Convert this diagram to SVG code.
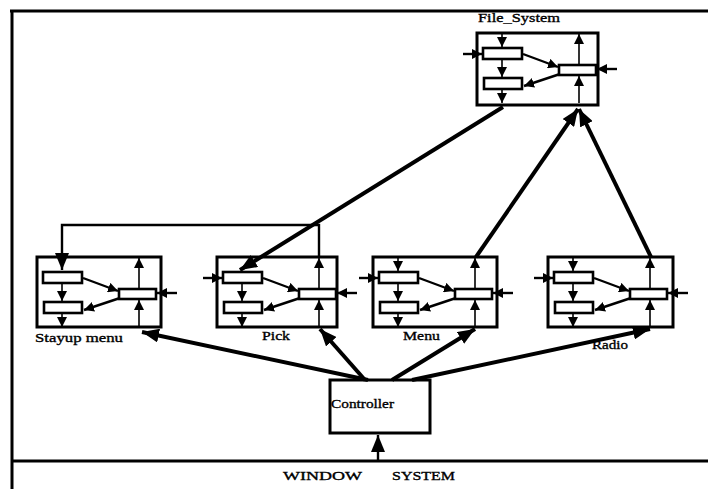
<svg xmlns="http://www.w3.org/2000/svg" xmlns:xlink="http://www.w3.org/1999/xlink" width="708" height="489" viewBox="0 0 708 489">
<style>
.frame{fill:none;stroke:#000;stroke-width:3}
.box{fill:#fff;stroke:#000;stroke-width:3}
.ir{fill:#fff;stroke:#000;stroke-width:2.6}
.thin{fill:none;stroke:#000;stroke-width:1.6}
.mid{fill:none;stroke:#000;stroke-width:2.4}
.big{fill:none;stroke:#000;stroke-width:4}
.lbl{font-family:"Liberation Serif","Times New Roman",serif;font-size:13px;fill:#000;stroke:#000;stroke-width:0.35}
</style>
<defs>
<marker id="ah" markerUnits="userSpaceOnUse" markerWidth="11" markerHeight="10" refX="10" refY="5" orient="auto" viewBox="0 0 11 10">
<path d="M0,0 L10,5 L0,10 z" fill="#000"/>
</marker>
<marker id="ab" markerUnits="userSpaceOnUse" markerWidth="18" markerHeight="14" refX="17" refY="7" orient="auto" viewBox="0 0 18 14">
<path d="M0,0 L17,7 L0,14 z" fill="#000"/>
</marker>
<g id="inner">
<rect class="ir" x="6" y="15" width="39" height="11"/>
<rect class="ir" x="7" y="45" width="38" height="11"/>
<rect class="ir" x="82" y="32" width="37" height="10"/>
<line class="thin" x1="25" y1="27" x2="25" y2="44" marker-end="url(#ah)"/>
<line class="thin" x1="25" y1="57" x2="25" y2="70" marker-end="url(#ah)"/>
<line class="thin" x1="102" y1="31" x2="102" y2="1" marker-end="url(#ah)"/>
<line class="thin" x1="102" y1="70" x2="102" y2="43" marker-end="url(#ah)"/>
<line class="mid" x1="46" y1="21" x2="81" y2="34" marker-end="url(#ah)"/>
<line class="mid" x1="83" y1="41" x2="47" y2="53" marker-end="url(#ah)"/>
<line class="mid" x1="140" y1="36" x2="120" y2="36" marker-end="url(#ah)"/>
</g>
<line id="topin" class="thin" x1="25" y1="0" x2="25" y2="14" marker-end="url(#ah)"/>
<line id="leftin" class="mid" x1="-14" y1="21" x2="5" y2="21" marker-end="url(#ah)"/>
</defs>

<g id="frame">
<line class="frame" x1="10" y1="11" x2="708" y2="11"/>
<line class="frame" x1="12" y1="10" x2="12" y2="489"/>
<line class="frame" x1="12" y1="461" x2="708" y2="461"/>
<text class="lbl" x="283" y="480" textLength="79" lengthAdjust="spacingAndGlyphs">WINDOW</text>
<text class="lbl" x="392" y="480" textLength="63" lengthAdjust="spacingAndGlyphs">SYSTEM</text>
</g>

<g id="file_system">
<rect class="box" x="477" y="33" width="121" height="72"/>
<g transform="translate(477,33)">
<use xlink:href="#inner"/>
<use xlink:href="#topin"/>
<use xlink:href="#leftin"/>
</g>
<text class="lbl" x="478" y="22" textLength="82" lengthAdjust="spacingAndGlyphs">File_System</text>
</g>

<g id="stayup_menu">
<rect class="box" x="37" y="257" width="124" height="70"/>
<g transform="translate(37,257)">
<use xlink:href="#inner"/>
</g>
<text class="lbl" x="35" y="342" textLength="88" lengthAdjust="spacingAndGlyphs">Stayup menu</text>
</g>

<g id="pick">
<rect class="box" x="217" y="257" width="120" height="70"/>
<g transform="translate(217,257)">
<use xlink:href="#inner"/>
<use xlink:href="#leftin"/>
</g>
<text class="lbl" x="262" y="340" textLength="28" lengthAdjust="spacingAndGlyphs">Pick</text>
</g>

<g id="menu">
<rect class="box" x="373" y="257" width="124" height="70"/>
<g transform="translate(373,257)">
<use xlink:href="#inner"/>
<use xlink:href="#topin"/>
<use xlink:href="#leftin"/>
</g>
<text class="lbl" x="403" y="340" textLength="37" lengthAdjust="spacingAndGlyphs">Menu</text>
</g>

<g id="radio">
<rect class="box" x="548" y="257" width="125" height="70"/>
<g transform="translate(548,257)">
<use xlink:href="#inner"/>
<use xlink:href="#topin"/>
<use xlink:href="#leftin"/>
</g>
<text class="lbl" x="592" y="349" textLength="36" lengthAdjust="spacingAndGlyphs">Radio</text>
</g>

<g id="controller">
<rect class="box" x="330" y="380" width="100" height="53"/>
<text class="lbl" x="331" y="408" textLength="63" lengthAdjust="spacingAndGlyphs">Controller</text>
</g>

<g id="connectors">
<line class="big" x1="503" y1="107" x2="240" y2="270" marker-end="url(#ab)"/>
<line class="big" x1="476" y1="257" x2="578" y2="109" marker-end="url(#ab)"/>
<line class="big" x1="651" y1="257" x2="579" y2="109" marker-end="url(#ab)"/>
<line class="big" x1="368" y1="380" x2="142" y2="332" marker-end="url(#ab)"/>
<line class="big" x1="365" y1="380" x2="320" y2="329" marker-end="url(#ab)"/>
<line class="big" x1="392" y1="380" x2="475" y2="329" marker-end="url(#ab)"/>
<line class="big" x1="412" y1="380" x2="650" y2="329" marker-end="url(#ab)"/>
<line class="mid" x1="378" y1="461" x2="378" y2="435" marker-end="url(#ab)"/>
<polyline class="mid" points="319,257 319,225 62,225 62,270" marker-end="url(#ab)"/>
</g>
</svg>
